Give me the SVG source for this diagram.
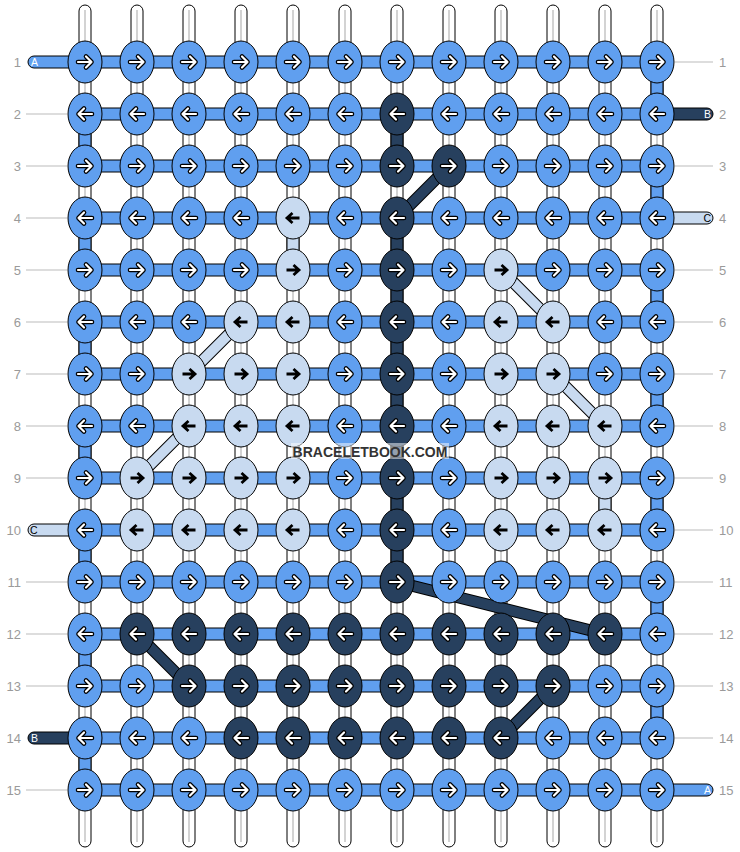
<svg xmlns="http://www.w3.org/2000/svg" xmlns:xlink="http://www.w3.org/1999/xlink" width="740" height="852" viewBox="0 0 740 852">
<style>
.b{fill:#609FEF;stroke:#000;stroke-width:1}
.d{fill:#27405E;stroke:#000;stroke-width:1}
.l{fill:#C8DAF0;stroke:#000;stroke-width:1}
.ws{fill:#fff;stroke:#000;stroke-width:1}
.wc{stroke:#c4c4c4;stroke-width:1.5}
.ao{fill:none;stroke:#000;stroke-width:4.6;stroke-linecap:round;stroke-linejoin:round}
.ai{fill:none;stroke:#fff;stroke-width:2.2;stroke-linecap:round;stroke-linejoin:round}
.ak{fill:none;stroke:#000;stroke-width:2.8}
.num{font-family:"Liberation Sans",Arial,sans-serif;font-size:13px;fill:#9a9a9a}
.gl{stroke:#bbb;stroke-width:1}
.st{font-family:"Liberation Sans",Arial,sans-serif;font-size:10.5px}
.dgo{stroke:#000;stroke-width:12;fill:none}
.dgd{stroke:#27405E;stroke-width:10;fill:none}
.dgl{stroke:#C8DAF0;stroke-width:10;fill:none}
</style>
<defs>
<g id="R"><path class="ao" d="M-7,0H6.5M1,-5.5L6.5,0L1,5.5"/><path class="ai" d="M-7,0H6.5M1,-5.5L6.5,0L1,5.5"/></g>
<use id="L" href="#R" transform="scale(-1,1)"/>
<path id="Rk" class="ak" d="M-6.5,0H5.5M0.5,-5L6,0L0.5,5"/>
<use id="Lk" href="#Rk" transform="scale(-1,1)"/>
<g id="bR"><ellipse class="b" rx="17" ry="21"/><use href="#R"/></g>
<g id="bL"><ellipse class="b" rx="17" ry="21"/><use href="#L"/></g>
<g id="dR"><ellipse class="d" rx="17" ry="21"/><use href="#R"/></g>
<g id="dL"><ellipse class="d" rx="17" ry="21"/><use href="#L"/></g>
<g id="lR"><ellipse class="l" rx="17" ry="21"/><use href="#Rk"/></g>
<g id="lL"><ellipse class="l" rx="17" ry="21"/><use href="#Lk"/></g>
</defs>
<rect width="740" height="852" fill="#fff"/>

<g id="labels">
<g class="gl">
<line x1="26" y1="114" x2="67" y2="114"/><line x1="26" y1="166" x2="67" y2="166"/><line x1="26" y1="218" x2="67" y2="218"/><line x1="26" y1="270" x2="67" y2="270"/><line x1="26" y1="322" x2="67" y2="322"/><line x1="26" y1="374" x2="67" y2="374"/><line x1="26" y1="426" x2="67" y2="426"/><line x1="26" y1="478" x2="67" y2="478"/><line x1="26" y1="582" x2="67" y2="582"/><line x1="26" y1="634" x2="67" y2="634"/><line x1="26" y1="686" x2="67" y2="686"/><line x1="26" y1="790" x2="67" y2="790"/>
<line x1="675" y1="62" x2="713" y2="62"/><line x1="675" y1="166" x2="713" y2="166"/><line x1="675" y1="270" x2="713" y2="270"/><line x1="675" y1="322" x2="713" y2="322"/><line x1="675" y1="374" x2="713" y2="374"/><line x1="675" y1="426" x2="713" y2="426"/><line x1="675" y1="478" x2="713" y2="478"/><line x1="675" y1="530" x2="713" y2="530"/><line x1="675" y1="582" x2="713" y2="582"/><line x1="675" y1="634" x2="713" y2="634"/><line x1="675" y1="686" x2="713" y2="686"/><line x1="675" y1="738" x2="713" y2="738"/>
</g>
<g class="num" text-anchor="end">
<text x="21" y="66.5">1</text><text x="21" y="118.5">2</text><text x="21" y="170.5">3</text><text x="21" y="222.5">4</text><text x="21" y="274.5">5</text><text x="21" y="326.5">6</text><text x="21" y="378.5">7</text><text x="21" y="430.5">8</text><text x="21" y="482.5">9</text><text x="21" y="534.5">10</text><text x="21" y="586.5">11</text><text x="21" y="638.5">12</text><text x="21" y="690.5">13</text><text x="21" y="742.5">14</text><text x="21" y="794.5">15</text>
</g>
<g class="num">
<text x="719" y="66.5">1</text><text x="719" y="118.5">2</text><text x="719" y="170.5">3</text><text x="719" y="222.5">4</text><text x="719" y="274.5">5</text><text x="719" y="326.5">6</text><text x="719" y="378.5">7</text><text x="719" y="430.5">8</text><text x="719" y="482.5">9</text><text x="719" y="534.5">10</text><text x="719" y="586.5">11</text><text x="719" y="638.5">12</text><text x="719" y="690.5">13</text><text x="719" y="742.5">14</text><text x="719" y="794.5">15</text>
</g>
</g>

<g id="connectors">
<g id="strings">
<rect class="ws" x="79" y="5" width="12" height="842" rx="6"/><rect class="ws" x="131" y="5" width="12" height="842" rx="6"/><rect class="ws" x="183" y="5" width="12" height="842" rx="6"/><rect class="ws" x="235" y="5" width="12" height="842" rx="6"/><rect class="ws" x="287" y="5" width="12" height="842" rx="6"/><rect class="ws" x="339" y="5" width="12" height="842" rx="6"/><rect class="ws" x="391" y="5" width="12" height="842" rx="6"/><rect class="ws" x="443" y="5" width="12" height="842" rx="6"/><rect class="ws" x="495" y="5" width="12" height="842" rx="6"/><rect class="ws" x="547" y="5" width="12" height="842" rx="6"/><rect class="ws" x="599" y="5" width="12" height="842" rx="6"/><rect class="ws" x="651" y="5" width="12" height="842" rx="6"/>
<g class="wc">
<line x1="85" y1="10" x2="85" y2="842"/><line x1="137" y1="10" x2="137" y2="842"/><line x1="189" y1="10" x2="189" y2="842"/><line x1="241" y1="10" x2="241" y2="842"/><line x1="293" y1="10" x2="293" y2="842"/><line x1="345" y1="10" x2="345" y2="842"/><line x1="397" y1="10" x2="397" y2="842"/><line x1="449" y1="10" x2="449" y2="842"/><line x1="501" y1="10" x2="501" y2="842"/><line x1="553" y1="10" x2="553" y2="842"/><line x1="605" y1="10" x2="605" y2="842"/><line x1="657" y1="10" x2="657" y2="842"/>
</g>
</g>
<g id="verticals">
<rect class="b" x="79" y="114" width="12" height="52"/><rect class="b" x="79" y="218" width="12" height="52"/><rect class="b" x="79" y="322" width="12" height="52"/><rect class="b" x="79" y="426" width="12" height="52"/><rect class="b" x="79" y="530" width="12" height="52"/><rect class="b" x="79" y="634" width="12" height="52"/><rect class="b" x="79" y="738" width="12" height="52"/>
<rect class="b" x="651" y="62" width="12" height="52"/><rect class="b" x="651" y="166" width="12" height="52"/><rect class="b" x="651" y="270" width="12" height="52"/><rect class="b" x="651" y="374" width="12" height="52"/><rect class="b" x="651" y="478" width="12" height="52"/><rect class="b" x="651" y="582" width="12" height="52"/><rect class="b" x="651" y="686" width="12" height="52"/>
<rect class="d" x="391" y="114" width="12" height="52"/><rect class="d" x="391" y="218" width="12" height="312"/><rect class="d" x="391" y="530" width="12" height="52"/>
<rect class="l" x="287" y="218" width="12" height="52"/>
<rect class="l" x="599" y="478" width="12" height="52"/>
</g>
<g id="rows">
<rect class="b" x="85" y="56" width="572" height="12"/><rect class="b" x="85" y="108" width="572" height="12"/><rect class="b" x="85" y="160" width="572" height="12"/><rect class="b" x="85" y="212" width="572" height="12"/><rect class="b" x="85" y="264" width="572" height="12"/><rect class="b" x="85" y="316" width="572" height="12"/><rect class="b" x="85" y="368" width="572" height="12"/><rect class="b" x="85" y="420" width="572" height="12"/><rect class="b" x="85" y="472" width="572" height="12"/><rect class="b" x="85" y="524" width="572" height="12"/><rect class="b" x="85" y="576" width="572" height="12"/><rect class="b" x="85" y="628" width="572" height="12"/><rect class="b" x="85" y="680" width="572" height="12"/><rect class="b" x="85" y="732" width="572" height="12"/><rect class="b" x="85" y="784" width="572" height="12"/>
</g>
<g id="stubs">
<path class="b" d="M80,56H34A6,6 0 0 0 34,68H80Z"/>
<path class="l" d="M80,524H34A6,6 0 0 0 34,536H80Z"/>
<path class="d" d="M80,732H34A6,6 0 0 0 34,744H80Z"/>
<path class="d" d="M662,108H707A6,6 0 0 1 707,120H662Z"/>
<path class="l" d="M662,212H707A6,6 0 0 1 707,224H662Z"/>
<path class="b" d="M662,784H707A6,6 0 0 1 707,796H662Z"/>
<g class="st">
<text x="31" y="66" fill="#fff">A</text>
<text x="30" y="534" fill="#000">C</text>
<text x="31" y="742" fill="#fff">B</text>
<text x="711" y="118" fill="#fff" text-anchor="end">B</text>
<text x="711" y="222" fill="#000" text-anchor="end">C</text>
<text x="711" y="794" fill="#fff" text-anchor="end">A</text>
</g>
</g>
<g id="diagonals">
<path class="dgo" d="M449,166L397,218M137,634L189,686M553,686L501,738M397,582L605,634M501,270L553,322M241,322L189,374M553,374L605,426M189,426L137,478"/>
<path class="dgd" d="M449,166L397,218M137,634L189,686M553,686L501,738M397,582L605,634"/>
<path class="dgl" d="M501,270L553,322M241,322L189,374M553,374L605,426M189,426L137,478"/>
</g>
</g>

<g id="knots">
<g id="k1_1"><use href="#bR" x="85" y="62"/></g><g id="k1_2"><use href="#bR" x="137" y="62"/></g><g id="k1_3"><use href="#bR" x="189" y="62"/></g><g id="k1_4"><use href="#bR" x="241" y="62"/></g><g id="k1_5"><use href="#bR" x="293" y="62"/></g><g id="k1_6"><use href="#bR" x="345" y="62"/></g><g id="k1_7"><use href="#bR" x="397" y="62"/></g><g id="k1_8"><use href="#bR" x="449" y="62"/></g><g id="k1_9"><use href="#bR" x="501" y="62"/></g><g id="k1_10"><use href="#bR" x="553" y="62"/></g><g id="k1_11"><use href="#bR" x="605" y="62"/></g><g id="k1_12"><use href="#bR" x="657" y="62"/></g>
<g id="k2_1"><use href="#bL" x="85" y="114"/></g><g id="k2_2"><use href="#bL" x="137" y="114"/></g><g id="k2_3"><use href="#bL" x="189" y="114"/></g><g id="k2_4"><use href="#bL" x="241" y="114"/></g><g id="k2_5"><use href="#bL" x="293" y="114"/></g><g id="k2_6"><use href="#bL" x="345" y="114"/></g><g id="k2_7"><use href="#dL" x="397" y="114"/></g><g id="k2_8"><use href="#bL" x="449" y="114"/></g><g id="k2_9"><use href="#bL" x="501" y="114"/></g><g id="k2_10"><use href="#bL" x="553" y="114"/></g><g id="k2_11"><use href="#bL" x="605" y="114"/></g><g id="k2_12"><use href="#bL" x="657" y="114"/></g>
<g id="k3_1"><use href="#bR" x="85" y="166"/></g><g id="k3_2"><use href="#bR" x="137" y="166"/></g><g id="k3_3"><use href="#bR" x="189" y="166"/></g><g id="k3_4"><use href="#bR" x="241" y="166"/></g><g id="k3_5"><use href="#bR" x="293" y="166"/></g><g id="k3_6"><use href="#bR" x="345" y="166"/></g><g id="k3_7"><use href="#dR" x="397" y="166"/></g><g id="k3_8"><use href="#dR" x="449" y="166"/></g><g id="k3_9"><use href="#bR" x="501" y="166"/></g><g id="k3_10"><use href="#bR" x="553" y="166"/></g><g id="k3_11"><use href="#bR" x="605" y="166"/></g><g id="k3_12"><use href="#bR" x="657" y="166"/></g>
<g id="k4_1"><use href="#bL" x="85" y="218"/></g><g id="k4_2"><use href="#bL" x="137" y="218"/></g><g id="k4_3"><use href="#bL" x="189" y="218"/></g><g id="k4_4"><use href="#bL" x="241" y="218"/></g><g id="k4_5"><use href="#lL" x="293" y="218"/></g><g id="k4_6"><use href="#bL" x="345" y="218"/></g><g id="k4_7"><use href="#dL" x="397" y="218"/></g><g id="k4_8"><use href="#bL" x="449" y="218"/></g><g id="k4_9"><use href="#bL" x="501" y="218"/></g><g id="k4_10"><use href="#bL" x="553" y="218"/></g><g id="k4_11"><use href="#bL" x="605" y="218"/></g><g id="k4_12"><use href="#bL" x="657" y="218"/></g>
<g id="k5_1"><use href="#bR" x="85" y="270"/></g><g id="k5_2"><use href="#bR" x="137" y="270"/></g><g id="k5_3"><use href="#bR" x="189" y="270"/></g><g id="k5_4"><use href="#bR" x="241" y="270"/></g><g id="k5_5"><use href="#lR" x="293" y="270"/></g><g id="k5_6"><use href="#bR" x="345" y="270"/></g><g id="k5_7"><use href="#dR" x="397" y="270"/></g><g id="k5_8"><use href="#bR" x="449" y="270"/></g><g id="k5_9"><use href="#lR" x="501" y="270"/></g><g id="k5_10"><use href="#bR" x="553" y="270"/></g><g id="k5_11"><use href="#bR" x="605" y="270"/></g><g id="k5_12"><use href="#bR" x="657" y="270"/></g>
<g id="k6_1"><use href="#bL" x="85" y="322"/></g><g id="k6_2"><use href="#bL" x="137" y="322"/></g><g id="k6_3"><use href="#bL" x="189" y="322"/></g><g id="k6_4"><use href="#lL" x="241" y="322"/></g><g id="k6_5"><use href="#lL" x="293" y="322"/></g><g id="k6_6"><use href="#bL" x="345" y="322"/></g><g id="k6_7"><use href="#dL" x="397" y="322"/></g><g id="k6_8"><use href="#bL" x="449" y="322"/></g><g id="k6_9"><use href="#lL" x="501" y="322"/></g><g id="k6_10"><use href="#lL" x="553" y="322"/></g><g id="k6_11"><use href="#bL" x="605" y="322"/></g><g id="k6_12"><use href="#bL" x="657" y="322"/></g>
<g id="k7_1"><use href="#bR" x="85" y="374"/></g><g id="k7_2"><use href="#bR" x="137" y="374"/></g><g id="k7_3"><use href="#lR" x="189" y="374"/></g><g id="k7_4"><use href="#lR" x="241" y="374"/></g><g id="k7_5"><use href="#lR" x="293" y="374"/></g><g id="k7_6"><use href="#bR" x="345" y="374"/></g><g id="k7_7"><use href="#dR" x="397" y="374"/></g><g id="k7_8"><use href="#bR" x="449" y="374"/></g><g id="k7_9"><use href="#lR" x="501" y="374"/></g><g id="k7_10"><use href="#lR" x="553" y="374"/></g><g id="k7_11"><use href="#bR" x="605" y="374"/></g><g id="k7_12"><use href="#bR" x="657" y="374"/></g>
<g id="k8_1"><use href="#bL" x="85" y="426"/></g><g id="k8_2"><use href="#bL" x="137" y="426"/></g><g id="k8_3"><use href="#lL" x="189" y="426"/></g><g id="k8_4"><use href="#lL" x="241" y="426"/></g><g id="k8_5"><use href="#lL" x="293" y="426"/></g><g id="k8_6"><use href="#bL" x="345" y="426"/></g><g id="k8_7"><use href="#dL" x="397" y="426"/></g><g id="k8_8"><use href="#bL" x="449" y="426"/></g><g id="k8_9"><use href="#lL" x="501" y="426"/></g><g id="k8_10"><use href="#lL" x="553" y="426"/></g><g id="k8_11"><use href="#lL" x="605" y="426"/></g><g id="k8_12"><use href="#bL" x="657" y="426"/></g>
<g id="k9_1"><use href="#bR" x="85" y="478"/></g><g id="k9_2"><use href="#lR" x="137" y="478"/></g><g id="k9_3"><use href="#lR" x="189" y="478"/></g><g id="k9_4"><use href="#lR" x="241" y="478"/></g><g id="k9_5"><use href="#lR" x="293" y="478"/></g><g id="k9_6"><use href="#bR" x="345" y="478"/></g><g id="k9_7"><use href="#dR" x="397" y="478"/></g><g id="k9_8"><use href="#bR" x="449" y="478"/></g><g id="k9_9"><use href="#lR" x="501" y="478"/></g><g id="k9_10"><use href="#lR" x="553" y="478"/></g><g id="k9_11"><use href="#lR" x="605" y="478"/></g><g id="k9_12"><use href="#bR" x="657" y="478"/></g>
<g id="k10_1"><use href="#bL" x="85" y="530"/></g><g id="k10_2"><use href="#lL" x="137" y="530"/></g><g id="k10_3"><use href="#lL" x="189" y="530"/></g><g id="k10_4"><use href="#lL" x="241" y="530"/></g><g id="k10_5"><use href="#lL" x="293" y="530"/></g><g id="k10_6"><use href="#bL" x="345" y="530"/></g><g id="k10_7"><use href="#dL" x="397" y="530"/></g><g id="k10_8"><use href="#bL" x="449" y="530"/></g><g id="k10_9"><use href="#lL" x="501" y="530"/></g><g id="k10_10"><use href="#lL" x="553" y="530"/></g><g id="k10_11"><use href="#lL" x="605" y="530"/></g><g id="k10_12"><use href="#bL" x="657" y="530"/></g>
<g id="k11_1"><use href="#bR" x="85" y="582"/></g><g id="k11_2"><use href="#bR" x="137" y="582"/></g><g id="k11_3"><use href="#bR" x="189" y="582"/></g><g id="k11_4"><use href="#bR" x="241" y="582"/></g><g id="k11_5"><use href="#bR" x="293" y="582"/></g><g id="k11_6"><use href="#bR" x="345" y="582"/></g><g id="k11_7"><use href="#dR" x="397" y="582"/></g><g id="k11_8"><use href="#bR" x="449" y="582"/></g><g id="k11_9"><use href="#bR" x="501" y="582"/></g><g id="k11_10"><use href="#bR" x="553" y="582"/></g><g id="k11_11"><use href="#bR" x="605" y="582"/></g><g id="k11_12"><use href="#bR" x="657" y="582"/></g>
<g id="k12_1"><use href="#bL" x="85" y="634"/></g><g id="k12_2"><use href="#dL" x="137" y="634"/></g><g id="k12_3"><use href="#dL" x="189" y="634"/></g><g id="k12_4"><use href="#dL" x="241" y="634"/></g><g id="k12_5"><use href="#dL" x="293" y="634"/></g><g id="k12_6"><use href="#dL" x="345" y="634"/></g><g id="k12_7"><use href="#dL" x="397" y="634"/></g><g id="k12_8"><use href="#dL" x="449" y="634"/></g><g id="k12_9"><use href="#dL" x="501" y="634"/></g><g id="k12_10"><use href="#dL" x="553" y="634"/></g><g id="k12_11"><use href="#dL" x="605" y="634"/></g><g id="k12_12"><use href="#bL" x="657" y="634"/></g>
<g id="k13_1"><use href="#bR" x="85" y="686"/></g><g id="k13_2"><use href="#bR" x="137" y="686"/></g><g id="k13_3"><use href="#dR" x="189" y="686"/></g><g id="k13_4"><use href="#dR" x="241" y="686"/></g><g id="k13_5"><use href="#dR" x="293" y="686"/></g><g id="k13_6"><use href="#dR" x="345" y="686"/></g><g id="k13_7"><use href="#dR" x="397" y="686"/></g><g id="k13_8"><use href="#dR" x="449" y="686"/></g><g id="k13_9"><use href="#dR" x="501" y="686"/></g><g id="k13_10"><use href="#dR" x="553" y="686"/></g><g id="k13_11"><use href="#bR" x="605" y="686"/></g><g id="k13_12"><use href="#bR" x="657" y="686"/></g>
<g id="k14_1"><use href="#bL" x="85" y="738"/></g><g id="k14_2"><use href="#bL" x="137" y="738"/></g><g id="k14_3"><use href="#bL" x="189" y="738"/></g><g id="k14_4"><use href="#dL" x="241" y="738"/></g><g id="k14_5"><use href="#dL" x="293" y="738"/></g><g id="k14_6"><use href="#dL" x="345" y="738"/></g><g id="k14_7"><use href="#dL" x="397" y="738"/></g><g id="k14_8"><use href="#dL" x="449" y="738"/></g><g id="k14_9"><use href="#dL" x="501" y="738"/></g><g id="k14_10"><use href="#bL" x="553" y="738"/></g><g id="k14_11"><use href="#bL" x="605" y="738"/></g><g id="k14_12"><use href="#bL" x="657" y="738"/></g>
<g id="k15_1"><use href="#bR" x="85" y="790"/></g><g id="k15_2"><use href="#bR" x="137" y="790"/></g><g id="k15_3"><use href="#bR" x="189" y="790"/></g><g id="k15_4"><use href="#bR" x="241" y="790"/></g><g id="k15_5"><use href="#bR" x="293" y="790"/></g><g id="k15_6"><use href="#bR" x="345" y="790"/></g><g id="k15_7"><use href="#bR" x="397" y="790"/></g><g id="k15_8"><use href="#bR" x="449" y="790"/></g><g id="k15_9"><use href="#bR" x="501" y="790"/></g><g id="k15_10"><use href="#bR" x="553" y="790"/></g><g id="k15_11"><use href="#bR" x="605" y="790"/></g><g id="k15_12"><use href="#bR" x="657" y="790"/></g>
</g>

<g id="watermark">
<rect x="291" y="443" width="158" height="16" fill="#fff" fill-opacity="0.5"/>
<text x="370" y="457" text-anchor="middle" font-family="'Liberation Sans',Arial,sans-serif" font-size="14" font-weight="bold" fill="#333">BRACELETBOOK.COM</text>
</g>
</svg>
